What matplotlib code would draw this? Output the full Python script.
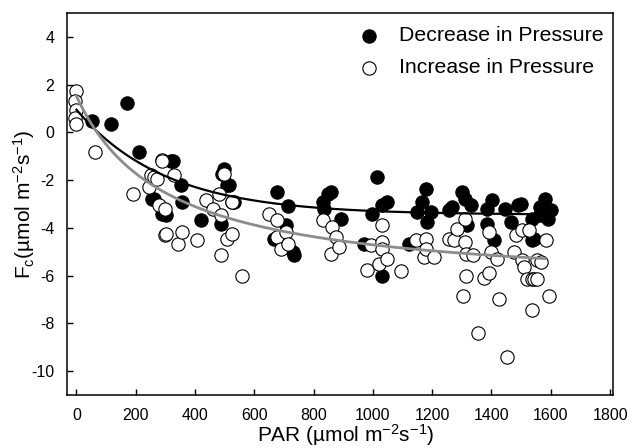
import matplotlib
matplotlib.use("Agg")
import matplotlib.pyplot as plt
import numpy as np

plt.rcParams['font.family'] = ['Liberation Sans', 'DejaVu Sans']
plt.rcParams['mathtext.default'] = 'regular'
plt.rcParams['axes.unicode_minus'] = False

# Decrease in Pressure (filled)
dec_par = [54, 118, 172, 212, 256, 260, 287, 303, 320, 324, 354, 357, 421, 489, 492,
           499, 509, 516, 526, 533, 668, 675, 708, 712, 729, 735, 830, 836, 847, 860,
           894, 971, 998, 1015, 1029, 1032, 1049, 1123, 1150, 1164, 1180, 1184, 1197,
           1258, 1268, 1299, 1309, 1319, 1332, 1386, 1386, 1403, 1410, 1444, 1467,
           1488, 1501, 1535, 1538, 1545, 1562, 1562, 1579, 1589, 1602]
dec_fc = [0.46, 0.34, 1.22, -0.84, -2.8, -2.8, -3.4, -3.46, -1.22, -1.22, -2.2, -2.9,
          -3.67, -3.84, -1.73, -1.52, -2.2, -2.2, -2.9, -2.9, -4.47, -2.49, -3.88,
          -3.08, -5.0, -5.15, -2.9, -3.2, -2.6, -2.5, -3.63, -4.68, -3.4, -1.86, -3.04,
          -6.0, -2.9, -4.68, -3.33, -2.9, -2.36, -3.76, -3.33, -3.25, -3.12, -2.49,
          -2.78, -3.88, -3.04, -3.2, -3.84, -2.83, -4.5, -3.2, -3.76, -3.04, -3.0,
          -3.63, -4.5, -4.47, -3.12, -3.46, -2.78, -3.63, -3.25]

# Increase in Pressure (open)
inc_par = [0, -5, 0, -5, 0, 61, 189, 246, 253, 263, 273, 280, 287, 290, 297, 297, 303,
           330, 344, 357, 408, 438, 459, 482, 486, 486, 496, 509, 523, 526, 560, 651,
           675, 678, 691, 708, 712, 830, 860, 863, 877, 887, 981, 995, 1022, 1029,
           1032, 1032, 1046, 1096, 1147, 1174, 1180, 1180, 1207, 1258, 1275,
           1285, 1309, 1309, 1305, 1315, 1315, 1336, 1356, 1376, 1393, 1393, 1400,
           1420, 1427, 1454, 1477, 1484, 1504, 1504, 1511, 1521, 1528, 1538, 1538,
           1545, 1552, 1555, 1568, 1585, 1595]
inc_fc = [1.75, 1.3, 0.95, 0.6, 0.35, -0.84, -2.57, -2.28, -1.77, -1.86, -1.94, -3.04,
          -1.14, -1.18, -3.2, -4.3, -4.26, -1.77, -4.68, -4.18, -4.5, -2.83, -3.2,
          -2.57, -3.46, -5.15, -1.73, -4.47, -2.9, -4.26, -6.0, -3.42, -4.39, -3.67,
          -4.9, -4.18, -4.68, -3.67, -5.1, -3.97, -4.39, -4.81, -5.78, -4.73, -5.5,
          -4.6, -3.88, -4.9, -5.3, -5.82, -4.5, -5.23, -4.47, -4.9, -5.23, -4.47,
          -4.5, -4.05, -3.63, -4.6, -6.84, -5.1, -6.0, -5.15, -8.4, -6.08,
          -4.18, -5.87, -5.0, -5.3, -6.96, -9.4, -5.0, -4.3, -4.1, -5.36, -5.65, -6.16,
          -4.1, -6.16, -7.43, -6.16, -6.16, -5.36, -5.44, -4.5, -6.85]

# fitted light-response curves
dec_fit = dict(a=-3.45, b=4.4, c=300.0, xmax=1600)   # a + b*exp(-x/c)
inc_fit = dict(a=-6.58, b=8.1, k=300.0, xmax=1580)   # a + b*k/(k+x)

fig = plt.figure(figsize=(6.35, 4.48), dpi=100)
ax = fig.add_axes([0.1055, 0.1183, 0.8599, 0.8527])

ax.scatter(dec_par, dec_fc, s=92, c='black', edgecolors='black', linewidths=0.8,
           label='Decrease in Pressure', zorder=2)
ax.scatter(inc_par, inc_fc, s=92, c='white', edgecolors='black', linewidths=0.8,
           label='Increase in Pressure', zorder=3)

xd = np.linspace(0, dec_fit['xmax'], 300)
ax.plot(xd, dec_fit['a'] + dec_fit['b'] * np.exp(-xd / dec_fit['c']),
        color='black', lw=1.6, zorder=4)
xi = np.linspace(0, inc_fit['xmax'], 300)
ax.plot(xi, inc_fit['a'] + inc_fit['b'] * inc_fit['k'] / (inc_fit['k'] + xi),
        color='#8c8c8c', lw=2.0, zorder=5)

ax.set_xlim(-32, 1810)
ax.set_ylim(-11, 5)
ax.set_xticks(np.arange(0, 1801, 200))
ax.set_yticks(np.arange(-10, 5, 2))
ax.tick_params(direction='in', length=4, width=1, labelsize=11.5, pad=9,
               top=False, right=False)
for sp in ax.spines.values():
    sp.set_linewidth(1.1)

ax.set_xlabel('PAR (µmol m$^{-2}$s$^{-1}$)', fontsize=15)
ax.set_ylabel('F$_c$(µmol m$^{-2}$s$^{-1}$)', fontsize=15)
ax.xaxis.set_label_coords(0.51, -0.07)
ax.yaxis.set_label_coords(-0.055, 0.5)

ax.legend(loc='upper right', bbox_to_anchor=(1.0, 0.99), frameon=False, fontsize=15.3,
          handletextpad=0.4, labelspacing=0.6, borderaxespad=0.05, scatterpoints=1)

fig.savefig('out.png', dpi=100)
